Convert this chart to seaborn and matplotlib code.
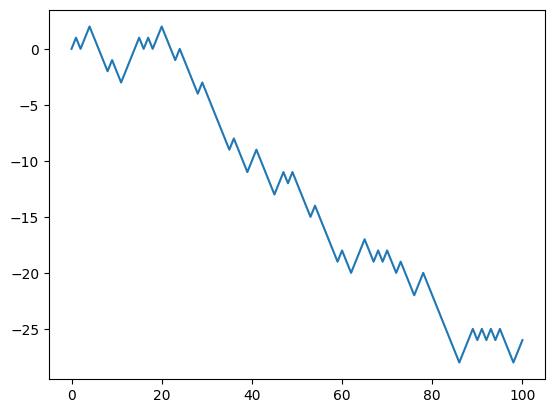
import matplotlib
matplotlib.use("Agg")
import matplotlib.pyplot as plt
import seaborn as sns
import pandas as pd

steps = list(range(101))
position = [0, 1, 0, 1, 2, 1, 0, -1, -2, -1,
            -2, -3, -2, -1, 0, 1, 0, 1, 0, 1,
            2, 1, 0, -1, 0, -1, -2, -3, -4, -3,
            -4, -5, -6, -7, -8, -9, -8, -9, -10, -11,
            -10, -9, -10, -11, -12, -13, -12, -11, -12, -11,
            -12, -13, -14, -15, -14, -15, -16, -17, -18, -19,
            -18, -19, -20, -19, -18, -17, -18, -19, -18, -19,
            -18, -19, -20, -19, -20, -21, -22, -21, -20, -21,
            -22, -23, -24, -25, -26, -27, -28, -27, -26, -25,
            -26, -25, -26, -25, -26, -25, -26, -27, -28, -27,
            -26]

df = pd.DataFrame({"step": steps, "position": position})

fig, ax = plt.subplots(figsize=(6.4, 4.8), dpi=100)
sns.lineplot(data=df, x="step", y="position", ax=ax, color="#1f77b4", linewidth=1.5)
ax.set_xlabel("")
ax.set_ylabel("")
fig.savefig("out.png", dpi=100, bbox_inches="tight")
